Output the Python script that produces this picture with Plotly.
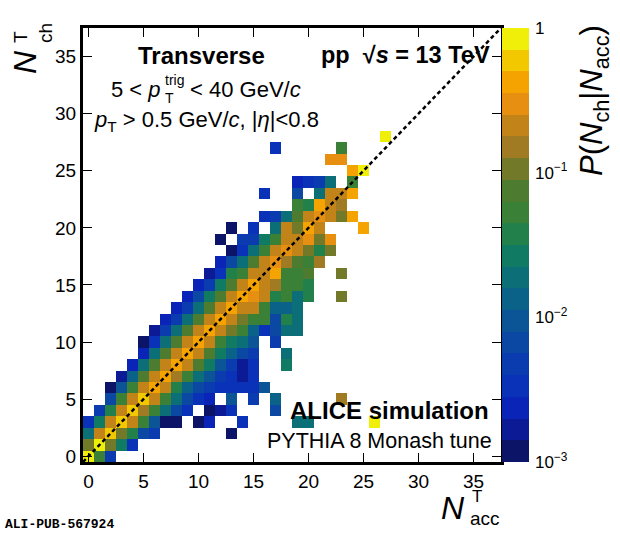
import numpy as np
import plotly.graph_objects as go

# ── Data: P(Nch | Nacc), one entry per filled cell, listed row by row (Nch = 0..28)
n_acc = [
    0, 1, 2,
    0, 1, 2, 3, 4,
    0, 1, 2, 3, 4, 5, 6, 13,
    0, 1, 2, 3, 4, 5, 6, 7, 8, 10, 11, 14, 19, 20, 26,
    1, 2, 3, 4, 5, 6, 7, 8, 9, 11, 12, 13, 17,
    2, 3, 4, 5, 6, 7, 8, 9, 10, 11, 13, 15, 17, 23,
    2, 3, 4, 5, 6, 7, 8, 9, 10, 11, 12, 13, 14, 15, 16,
    3, 4, 5, 6, 7, 8, 9, 10, 11, 12, 13, 14, 15,
    4, 5, 6, 7, 8, 9, 10, 11, 12, 13, 14, 15, 18,
    5, 6, 7, 8, 9, 10, 11, 12, 13, 14, 15, 18,
    5, 6, 7, 8, 9, 10, 11, 12, 13, 14, 15, 17,
    6, 7, 8, 9, 10, 11, 12, 13, 14, 15, 16, 17, 18, 19,
    7, 8, 9, 10, 11, 12, 13, 14, 15, 16, 17, 18, 19,
    8, 9, 10, 11, 12, 13, 14, 15, 16, 17, 18, 19,
    9, 10, 11, 12, 13, 14, 15, 16, 17, 18, 19, 20, 23,
    10, 11, 12, 13, 14, 15, 16, 17, 18, 19, 20,
    11, 12, 13, 14, 15, 16, 17, 18, 19, 20, 23,
    12, 13, 14, 15, 16, 17, 18, 19, 20, 21,
    13, 14, 15, 16, 17, 18, 19, 20, 21, 22,
    12, 14, 15, 16, 17, 18, 19, 20, 21, 22,
    13, 15, 17, 18, 19, 20, 21, 25,
    16, 17, 18, 19, 20, 21, 22, 23, 24,
    19, 20, 21, 22, 23,
    16, 19, 21, 22, 23, 24,
    19, 20, 21, 22, 24,
    24, 25,
    22, 23,
    17, 23,
    27,
]

n_ch = ([0] * 3 + [1] * 5 + [2] * 8 + [3] * 15 + [4] * 13 + [5] * 14 + [6] * 15
        + [7] * 13 + [8] * 13 + [9] * 12 + [10] * 12 + [11] * 14 + [12] * 13
        + [13] * 12 + [14] * 13 + [15] * 11 + [16] * 11 + [17] * 10 + [18] * 10
        + [19] * 10 + [20] * 8 + [21] * 9 + [22] * 5 + [23] * 6 + [24] * 5
        + [25] * 2 + [26] * 2 + [27] * 2 + [28] * 1)

prob = [
    0.84, 0.053, 0.0047,
    0.11, 0.84, 0.11, 0.027, 0.0034,
    0.019, 0.21, 0.60, 0.11, 0.038, 0.0067, 0.0047, 0.0012,
    0.0034, 0.027, 0.21, 0.60, 0.21, 0.053, 0.0094, 0.0012, 0.0012, 0.0012, 0.0024, 0.0034, 0.019, 0.019, 0.84,
    0.0047, 0.038, 0.21, 0.60, 0.15, 0.053, 0.019, 0.0067, 0.0034, 0.0012, 0.0017, 0.0034, 0.0067,
    0.0067, 0.053, 0.21, 0.60, 0.21, 0.053, 0.019, 0.0067, 0.0034, 0.0024, 0.0094, 0.0047, 0.013, 0.15,
    0.0012, 0.0094, 0.053, 0.21, 0.42, 0.21, 0.038, 0.013, 0.0067, 0.0047, 0.0034, 0.0034, 0.0034, 0.0034, 0.0094,
    0.0017, 0.013, 0.075, 0.21, 0.42, 0.15, 0.053, 0.019, 0.0094, 0.0047, 0.0034, 0.0017, 0.0034,
    0.0024, 0.019, 0.075, 0.21, 0.42, 0.21, 0.075, 0.027, 0.0094, 0.0047, 0.0017, 0.0034, 0.027,
    0.0024, 0.019, 0.075, 0.21, 0.42, 0.21, 0.075, 0.027, 0.013, 0.0067, 0.0047, 0.019,
    0.0012, 0.0034, 0.019, 0.075, 0.21, 0.42, 0.21, 0.053, 0.027, 0.019, 0.0094, 0.0047,
    0.0017, 0.0047, 0.019, 0.075, 0.21, 0.42, 0.21, 0.11, 0.053, 0.013, 0.0034, 0.0067, 0.019, 0.019,
    0.0024, 0.0047, 0.019, 0.075, 0.21, 0.42, 0.21, 0.11, 0.053, 0.053, 0.0067, 0.038, 0.019,
    0.0024, 0.0047, 0.019, 0.075, 0.21, 0.42, 0.21, 0.21, 0.053, 0.013, 0.013, 0.019,
    0.0024, 0.0067, 0.027, 0.075, 0.21, 0.42, 0.30, 0.21, 0.038, 0.053, 0.019, 0.038, 0.11,
    0.0024, 0.0047, 0.027, 0.075, 0.21, 0.42, 0.21, 0.15, 0.053, 0.053, 0.038,
    0.0017, 0.0034, 0.038, 0.053, 0.21, 0.21, 0.42, 0.053, 0.053, 0.075, 0.11,
    0.0024, 0.0067, 0.019, 0.075, 0.21, 0.30, 0.15, 0.075, 0.053, 0.15,
    0.0012, 0.0034, 0.019, 0.053, 0.21, 0.30, 0.21, 0.11, 0.038, 0.11,
    0.0012, 0.0047, 0.0047, 0.027, 0.053, 0.21, 0.21, 0.30, 0.11, 0.30,
    0.0012, 0.0034, 0.019, 0.21, 0.11, 0.42, 0.21, 0.42,
    0.0034, 0.0047, 0.019, 0.075, 0.21, 0.30, 0.21, 0.11, 0.42,
    0.053, 0.038, 0.42, 0.21, 0.15,
    0.0034, 0.0067, 0.019, 0.21, 0.21, 0.42,
    0.0024, 0.0034, 0.0047, 0.019, 0.053,
    0.42, 0.84,
    0.30, 0.30,
    0.0034, 0.053,
    0.84,
]

assert len(n_acc) == len(n_ch) == len(prob)

N_BINS = 38                      # bins 0..37 on both axes
diag = [-0.5, N_BINS - 0.5]      # Nch = Nacc reference line
cbar_major = [0.001, 0.01, 0.1, 1]
cbar_major_text = ["10<sup>\u22123</sup>", "10<sup>\u22122</sup>", "10<sup>\u22121</sup>", "1"]
cbar_minor = [m * d for d in (0.001, 0.01, 0.1) for m in range(2, 10)]

# ── Palette: 20 discrete steps over 3 decades (bottom → top)
bird_colors = [
    "#0c1468", "#0c1a96", "#0a24b8", "#0a32b8", "#0a3cb0",
    "#0a48a4", "#0b5496", "#0a6288", "#0c6f78", "#107a62",
    "#22804a", "#3a8036", "#4d7c30", "#727a2a", "#a07b23",
    "#c28419", "#e68f10", "#f5a300", "#f2c800", "#f0ef0a",
]
n_col = len(bird_colors)
colorscale = []
for k, c in enumerate(bird_colors):
    colorscale.append([k / n_col, c])
    colorscale.append([(k + 1) / n_col, c])

z = [[None] * N_BINS for _ in range(N_BINS)]
for a, c, p in zip(n_acc, n_ch, prob):
    z[c][a] = np.log10(p)

# ── Geometry helpers (pixel → paper coords)
W, H = 620, 535
ML, MR, MT, MB = 83, 10, 28, 73
PW, PH = W - ML - MR, H - MT - MB
PLOT_W = 418


def px(p):
    return (p - ML) / PW


def py(p):
    return (H - MB - p) / PH


FONT = "Liberation Sans"

fig = go.Figure()

fig.add_trace(go.Heatmap(
    x=list(range(N_BINS)),
    y=list(range(N_BINS)),
    z=z,
    zmin=-3, zmax=0,
    colorscale=colorscale,
    hoverongaps=False,
    colorbar=dict(
        x=px(502), xanchor="left", y=0.5, yanchor="middle",
        len=1, lenmode="fraction", thickness=27, thicknessmode="pixels",
        xpad=0, ypad=0, outlinewidth=0, showticklabels=False, ticks="",
    ),
))

fig.add_trace(go.Scatter(
    x=diag, y=diag, mode="lines",
    line=dict(color="black", width=2.5, dash="4px,3px"),
    hoverinfo="skip", showlegend=False,
))

# invisible trace so the colour-bar tick axis is drawn
fig.add_trace(go.Scatter(
    x=[None], y=[None], yaxis="y2", mode="markers",
    hoverinfo="skip", showlegend=False,
))

# ── Text
ann = []


def add_text(text, x, y, size, xanchor="center", yanchor="middle", angle=0, align="center", family=FONT):
    ann.append(dict(text=text, x=x, y=y, xref="paper", yref="paper", showarrow=False,
                    xanchor=xanchor, yanchor=yanchor, textangle=angle, align=align,
                    font=dict(family=family, size=size, color="black")))


add_text("<b>Transverse</b>", px(201), py(55), 24)
add_text("<b>pp  \u221a<i>s</i> = 13 TeV</b>", px(405), py(55), 23.5)
add_text("5 &lt; <i>p</i>", px(163), py(89), 22, xanchor="right")
add_text("trig<br>T", px(163), py(89), 14, xanchor="left", align="left")
add_text("&lt; 40 GeV/<i>c</i>", px(188), py(89), 22, xanchor="left")
add_text("<i>p</i><sub>T</sub> &gt; 0.5 GeV/<i>c</i>, |<i>\u03b7</i>|&lt;0.8", px(206), py(121), 22)
add_text("<b>ALICE simulation</b>", px(389), py(410), 24)
add_text("PYTHIA 8 Monash tune", px(379), py(441), 21.5)
add_text("<b>ALI-PUB-567924</b>", px(3), py(524), 13, xanchor="left", family="Liberation Mono")

# axis titles (ROOT style: stacked super/subscripts)
add_text("<i>N</i>", px(25), py(62), 32, angle=-90)
add_text("T<br>ch", px(33), py(33), 19, angle=-90, align="left")
add_text("<i>N</i>", px(453), py(508), 32)
add_text("T", px(470), py(485), 17, xanchor="left", yanchor="top")
add_text("acc", px(468), py(518), 19, xanchor="left")
add_text("<i>P</i>(<i>N</i><sub>ch</sub>|<i>N</i><sub>acc</sub>)", px(594), py(101), 31, angle=-90)

axis_common = dict(
    range=diag, tickvals=list(range(0, 36, 5)),
    ticks="inside", ticklen=9, tickwidth=1, tickcolor="black",
    showline=True, linewidth=3, linecolor="black", mirror="ticks",
    showgrid=False, zeroline=False,
    tickfont=dict(family=FONT, size=19, color="black"),
)

fig.update_layout(
    width=W, height=H,
    margin=dict(l=ML, r=MR, t=MT, b=MB),
    plot_bgcolor="white", paper_bgcolor="white",
    font=dict(family=FONT, color="black"),
    showlegend=False,
    xaxis=dict(domain=[0, PLOT_W / PW], **axis_common),
    yaxis=dict(**axis_common),
    yaxis2=dict(
        overlaying="y", anchor="free", position=px(529), side="right",
        range=[-3, 0], tickmode="array",
        tickvals=[np.log10(v) for v in cbar_major], ticktext=cbar_major_text,
        ticks="inside", ticklen=13, tickwidth=1.5, tickcolor="black",
        ticklabelstandoff=5,
        minor=dict(tickmode="array", tickvals=[np.log10(v) for v in cbar_minor],
                   ticks="inside", ticklen=7, tickwidth=1, tickcolor="black"),
        showline=False, showgrid=False, zeroline=False,
        tickfont=dict(family=FONT, size=17, color="black"),
    ),
    annotations=ann,
)

# page body has an 8px default margin; drop it so the figure sits at the window origin
fig.write_html("out.html", config={"displayModeBar": False},
               post_script="document.body.style.margin='0px';")
